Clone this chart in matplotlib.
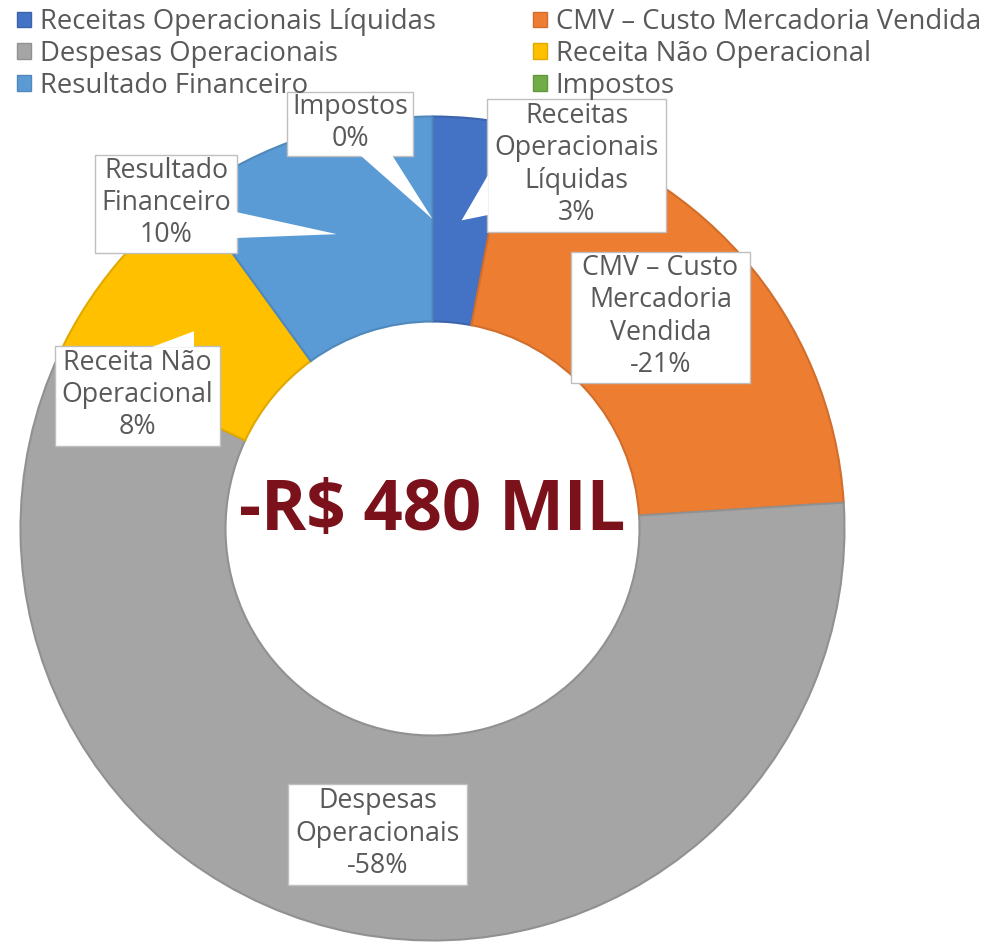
import matplotlib
matplotlib.use('Agg')
import matplotlib.pyplot as plt
from matplotlib.patches import Rectangle, Polygon
import matplotlib.colors as mcolors
import numpy as np

plt.rcParams['font.family'] = ['Open Sans', 'DejaVu Sans']

categories = ['Receitas Operacionais Líquidas', 'CMV – Custo Mercadoria Vendida',
              'Despesas Operacionais', 'Receita Não Operacional',
              'Resultado Financeiro', 'Impostos']
box_labels = ['Receitas\nOperacionais\nLíquidas', 'CMV – Custo\nMercadoria\nVendida',
              'Despesas\nOperacionais', 'Receita Não\nOperacional',
              'Resultado\nFinanceiro', 'Impostos']
shares = [3, -21, -58, 8, 10, 0]
colors = ['#4472C4', '#ED7D31', '#A5A5A5', '#FFC000', '#5B9BD5', '#70AD47']
total_text = '-R$ 480 MIL'

W, H = 993, 942
TXT = '#595959'

fig = plt.figure(figsize=(W / 100, H / 100), dpi=100)
ax = fig.add_axes([0, 0, 1, 1])

cx, cy = 432.5, H - 528.5
r_out, r_in = 412, 207
sizes = [abs(s) for s in shares]
edge = [tuple(np.array(mcolors.to_rgb(c)) * 0.88) for c in colors]

wedges, _ = ax.pie(sizes, colors=colors, startangle=90, counterclock=False,
                   center=(cx, cy), radius=r_out,
                   wedgeprops=dict(width=r_out - r_in, linewidth=1.5))
for w, e, s in zip(wedges, edge, sizes):
    w.set_edgecolor(e)
    if s == 0:
        w.set_linewidth(0)

# mid angle of each slice (clockwise from top) -> pointer tips at ring middle
cum = np.cumsum([0] + sizes[:-1])
mid = np.radians(360 * (cum + np.array(sizes) / 2) / sum(sizes))
r_mid = (r_out + r_in) / 2
tips = [(cx + r_mid * np.sin(a), cy + r_mid * np.cos(a)) for a in mid]

# label boxes: (x0, y0, x1, y1) in pixel coords from top, pointer base or None
boxes = [
    ((487, 99, 666, 232), ((488, 175), (488, 215))),
    ((571, 252, 750, 383), None),
    ((288, 784, 467, 885), None),
    ((55, 346, 220, 446), ((152, 347), (194, 347))),
    ((95, 155, 237, 253), ((236, 212), (236, 238))),
    ((287, 92, 413, 156), ((360, 155), (392, 155))),
]

for i, ((x0, y0, x1, y1), base) in enumerate(boxes):
    ax.add_patch(Rectangle((x0, H - y1), x1 - x0, y1 - y0, facecolor='white',
                           edgecolor='#BFBFBF', linewidth=1, zorder=5))
    if base is not None:
        (bx0, by0), (bx1, by1) = base
        ax.add_patch(Polygon([(bx0, H - by0), tips[i], (bx1, H - by1)],
                             closed=True, facecolor='white', edgecolor='none',
                             zorder=6))
    ax.text((x0 + x1) / 2, H - (y0 + y1) / 2 + 1, f'{box_labels[i]}\n{shares[i]}%',
            ha='center', va='center', fontsize=19.3, color=TXT,
            linespacing=1.2, zorder=7)

ax.text(cx, cy + 16, total_text, ha='center', va='center', fontsize=49.5,
        fontweight='bold', color='#7B111A', zorder=7)

order = [0, 2, 4, 1, 3, 5]
leg = fig.legend([wedges[i] for i in order], [categories[i] for i in order],
                 loc='upper left', bbox_to_anchor=(0.006, 1.003), ncol=2,
                 frameon=False, fontsize=19.8, handlelength=0.5,
                 handleheight=0.5, handletextpad=0.32, labelspacing=0.14,
                 columnspacing=3.55, borderaxespad=0)
for t in leg.get_texts():
    t.set_color(TXT)
for h, i in zip(leg.legend_handles, order):
    h.set_edgecolor(edge[i])
    h.set_linewidth(1)

ax.set_xlim(0, W)
ax.set_ylim(0, H)
ax.set_aspect('equal')
ax.axis('off')

plt.savefig('out.png', dpi=100)
plt.close('all')
